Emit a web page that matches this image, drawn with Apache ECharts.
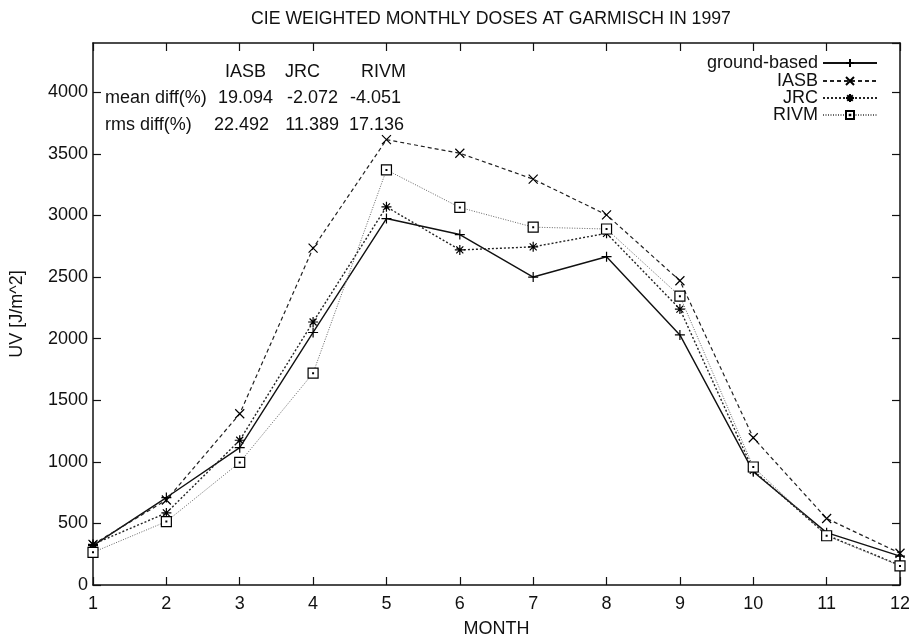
<!DOCTYPE html>
<html>
<head>
<meta charset="utf-8">
<script src="https://cdn.jsdelivr.net/npm/echarts@6/dist/echarts.min.js"></script>
<style>
  html, body { margin: 0; padding: 0; background: #fff; }
  #chart { width: 909px; height: 640px; }
</style>
</head>
<body>
<div id="chart"></div>
<script>
// Monthly CIE-weighted UV doses, Garmisch 1997
const months = [1, 2, 3, 4, 5, 6, 7, 8, 9, 10, 11, 12];
const groundBased = [320, 710, 1115, 2050, 2975, 2845, 2500, 2665, 2030, 920, 425, 235];
const iasb = [330, 690, 1390, 2735, 3615, 3505, 3295, 3005, 2470, 1195, 540, 258];
const jrc = [330, 585, 1175, 2135, 3070, 2720, 2745, 2855, 2240, 930, 405, 160];
const rivm = [265, 515, 995, 1720, 3370, 3065, 2905, 2890, 2345, 958, 400, 155];

// Statistics table
const statColumns = ['IASB', 'JRC', 'RIVM'];
const statRows = ['mean diff(%)', 'rms diff(%)'];
const meanDiff = ['19.094', '-2.072', '-4.051'];
const rmsDiff = ['22.492', '11.389', '17.136'];

const FONT = 'Liberation Sans, Arial, Helvetica, sans-serif';
const FS = 18;

const SYM = {
  plus: 'path://M0,5L10,5M5,0L5,10',
  cross: 'path://M0,0L10,10M10,0L0,10',
  star: 'path://M0,5L10,5M5,0L5,10M1.5,1.5L8.5,8.5M8.5,1.5L1.5,8.5',
  box: 'path://M0,0L10,0L10,10L0,10ZM4.6,4.6L5.4,4.6L5.4,5.4L4.6,5.4Z'
};

function pairs(vals) { return months.map((m, i) => [m, vals[i]]); }

const seriesDefs = [
  { name: 'ground-based', data: groundBased, sym: SYM.plus, size: 10, line: { color: '#111', width: 1.4, type: 'solid' }, fill: '#000' },
  { name: 'IASB', data: iasb, sym: SYM.cross, size: 9, line: { color: '#222', width: 1.2, type: [4, 3] }, fill: '#000' },
  { name: 'JRC', data: jrc, sym: SYM.star, size: 10, line: { color: '#222', width: 1.4, type: [2, 2] }, fill: '#000' },
  { name: 'RIVM', data: rivm, sym: SYM.box, size: 10, line: { color: '#666', width: 1, type: [1, 1.5] }, fill: '#fff' }
];

const legendTops = [54, 72, 89, 106];

const chart = echarts.init(document.getElementById('chart'), null, { renderer: 'canvas' });

// Table cells placed as text graphics
const headerLeft = [225, 285, 361];
const cellRight = [[273, 338, 401], [269, 339, 404]];
const headerY = 72;
const rowY = [98, 125];
const textStyle = (t, a) => ({ text: t, font: FS + 'px ' + FONT, fill: '#111', verticalAlign: 'middle', align: a || 'left' });
const graphics = [];
statColumns.forEach((c, i) => {
  graphics.push({ type: 'text', x: headerLeft[i], y: headerY, style: textStyle(c), z: 10 });
});
statRows.forEach((r, j) => {
  graphics.push({ type: 'text', x: 105, y: rowY[j], style: textStyle(r), z: 10 });
  const vals = j === 0 ? meanDiff : rmsDiff;
  vals.forEach((v, i) => {
    graphics.push({ type: 'text', x: cellRight[j][i], y: rowY[j], style: textStyle(v, 'right'), z: 10 });
  });
});

const frameLine = { show: true, onZero: false, lineStyle: { color: '#111', width: 1.5 } };
const innerTick = { show: true, inside: true, length: 8, lineStyle: { color: '#111', width: 1.2 } };

const option = {
  animation: false,
  backgroundColor: '#fff',
  title: {
    text: 'CIE WEIGHTED MONTHLY DOSES AT GARMISCH IN 1997',
    left: 251,
    top: 10,
    padding: 0,
    textStyle: { fontFamily: FONT, fontSize: 17.7, fontWeight: 'normal', color: '#111' }
  },
  legend: seriesDefs.map((s, i) => ({
    data: [s.name],
    right: 31,
    top: legendTops[i],
    orient: 'vertical',
    align: 'right',
    itemWidth: 54,
    itemHeight: 10,
    padding: 0,
    selectedMode: false,
    textStyle: { fontFamily: FONT, fontSize: FS, color: '#111' }
  })),
  grid: { left: 93, right: 9, top: 43, bottom: 55, show: false, outerBoundsMode: 'none', containLabel: false },
  xAxis: [
    {
      type: 'value', min: 1, max: 12, interval: 1, position: 'bottom',
      name: 'MONTH', nameLocation: 'middle', nameGap: 35,
      nameTextStyle: { fontFamily: FONT, fontSize: FS, color: '#111' },
      axisLine: frameLine,
      axisTick: innerTick,
      axisLabel: { fontFamily: FONT, fontSize: FS, color: '#111', margin: 10 },
      splitLine: { show: false }
    },
    {
      type: 'value', min: 1, max: 12, interval: 1, position: 'top',
      axisLine: frameLine,
      axisTick: innerTick,
      axisLabel: { show: false },
      splitLine: { show: false }
    }
  ],
  yAxis: [
    {
      type: 'value', min: 0, max: 4400, interval: 500, position: 'left',
      name: 'UV [J/m^2]', nameLocation: 'middle', nameGap: 67, nameRotate: 90,
      nameTextStyle: { fontFamily: FONT, fontSize: FS, color: '#111' },
      axisLine: frameLine,
      axisTick: innerTick,
      axisLabel: { fontFamily: FONT, fontSize: FS, color: '#111', margin: 5, showMaxLabel: false, formatter: v => String(v) },
      splitLine: { show: false }
    },
    {
      type: 'value', min: 0, max: 4400, interval: 500, position: 'right',
      axisLine: frameLine,
      axisTick: innerTick,
      axisLabel: { show: false },
      splitLine: { show: false }
    }
  ],
  graphic: graphics,
  series: seriesDefs.map(s => ({
    name: s.name,
    type: 'line',
    xAxisIndex: 0,
    yAxisIndex: 0,
    data: pairs(s.data),
    symbol: s.sym,
    symbolSize: s.size,
    showSymbol: true,
    lineStyle: s.line,
    itemStyle: { color: s.fill, borderColor: '#000', borderWidth: 1.2 },
    emphasis: { disabled: true }
  }))
};

chart.setOption(option);
</script>
</body>
</html>
